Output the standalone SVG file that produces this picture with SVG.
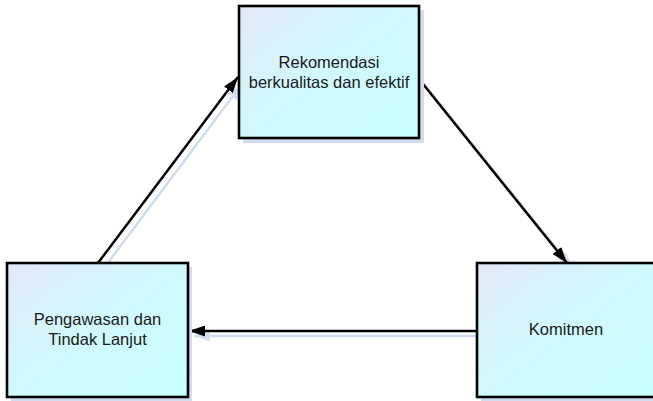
<svg xmlns="http://www.w3.org/2000/svg" width="653" height="401" viewBox="0 0 653 401">
  <defs>
    <linearGradient id="boxFill" x1="0" y1="0" x2="1" y2="1">
      <stop offset="0" stop-color="#e4e8f8"/>
      <stop offset="0.45" stop-color="#d2f8fc"/>
      <stop offset="1" stop-color="#c8ffff"/>
    </linearGradient>
    <marker id="arrow" viewBox="0 0 16 11" refX="16" refY="5.5" markerWidth="16" markerHeight="11" markerUnits="userSpaceOnUse" orient="auto">
      <path d="M0,0 L16,5.5 L0,11 Z" fill="#000"/>
    </marker>
    <marker id="arrowShadow" viewBox="0 0 16 11" refX="16" refY="5.5" markerWidth="16" markerHeight="11" markerUnits="userSpaceOnUse" orient="auto">
      <path d="M0,0 L16,5.5 L0,11 Z" fill="#d6e0f2"/>
    </marker>
  </defs>
  <style>
    .shadow { fill: #d3dbee; }
    .box { fill: url(#boxFill); stroke: #000; stroke-width: 2.6; }
    .label { font-family: "Liberation Sans", Arial, sans-serif; font-size: 16.5px; fill: #1a1a1a; text-anchor: middle; }
    .conn { stroke: #000; stroke-width: 2.5; fill: none; marker-end: url(#arrow); }
    .connShadow { stroke: #d0dcf2; stroke-width: 2.5; fill: none; marker-end: url(#arrowShadow); }
  </style>
  <rect width="653" height="401" fill="#fff"/>

  <!-- connectors -->
  <g id="connectors">
    <line class="connShadow" x1="104" y1="268" x2="242" y2="84"/>
    <line class="connShadow" x1="424" y1="84" x2="572" y2="268"/>
    <line class="connShadow" x1="482" y1="336" x2="194" y2="336"/>
    <line class="conn" x1="98" y1="263" x2="238" y2="77"/>
    <line class="conn" x1="419" y1="79" x2="567" y2="263"/>
    <line class="conn" x1="477" y1="331" x2="189" y2="331"/>
  </g>

  <!-- top node -->
  <g id="node-rekomendasi">
    <rect class="shadow" x="243" y="10" width="181" height="133"/>
    <rect class="box" x="239" y="6" width="180" height="132"/>
    <text class="label" x="329" y="68">Rekomendasi</text>
    <text class="label" x="329" y="88">berkualitas dan efektif</text>
  </g>

  <!-- bottom-left node -->
  <g id="node-pengawasan">
    <rect class="shadow" x="11" y="267" width="181" height="134"/>
    <rect class="box" x="7" y="263" width="181" height="134"/>
    <text class="label" x="97.5" y="325">Pengawasan dan</text>
    <text class="label" x="97.5" y="345">Tindak Lanjut</text>
  </g>

  <!-- bottom-right node -->
  <g id="node-komitmen">
    <rect class="shadow" x="481" y="267" width="181" height="134"/>
    <rect class="box" x="477" y="263" width="181" height="134"/>
    <text class="label" x="566" y="335">Komitmen</text>
  </g>
</svg>
